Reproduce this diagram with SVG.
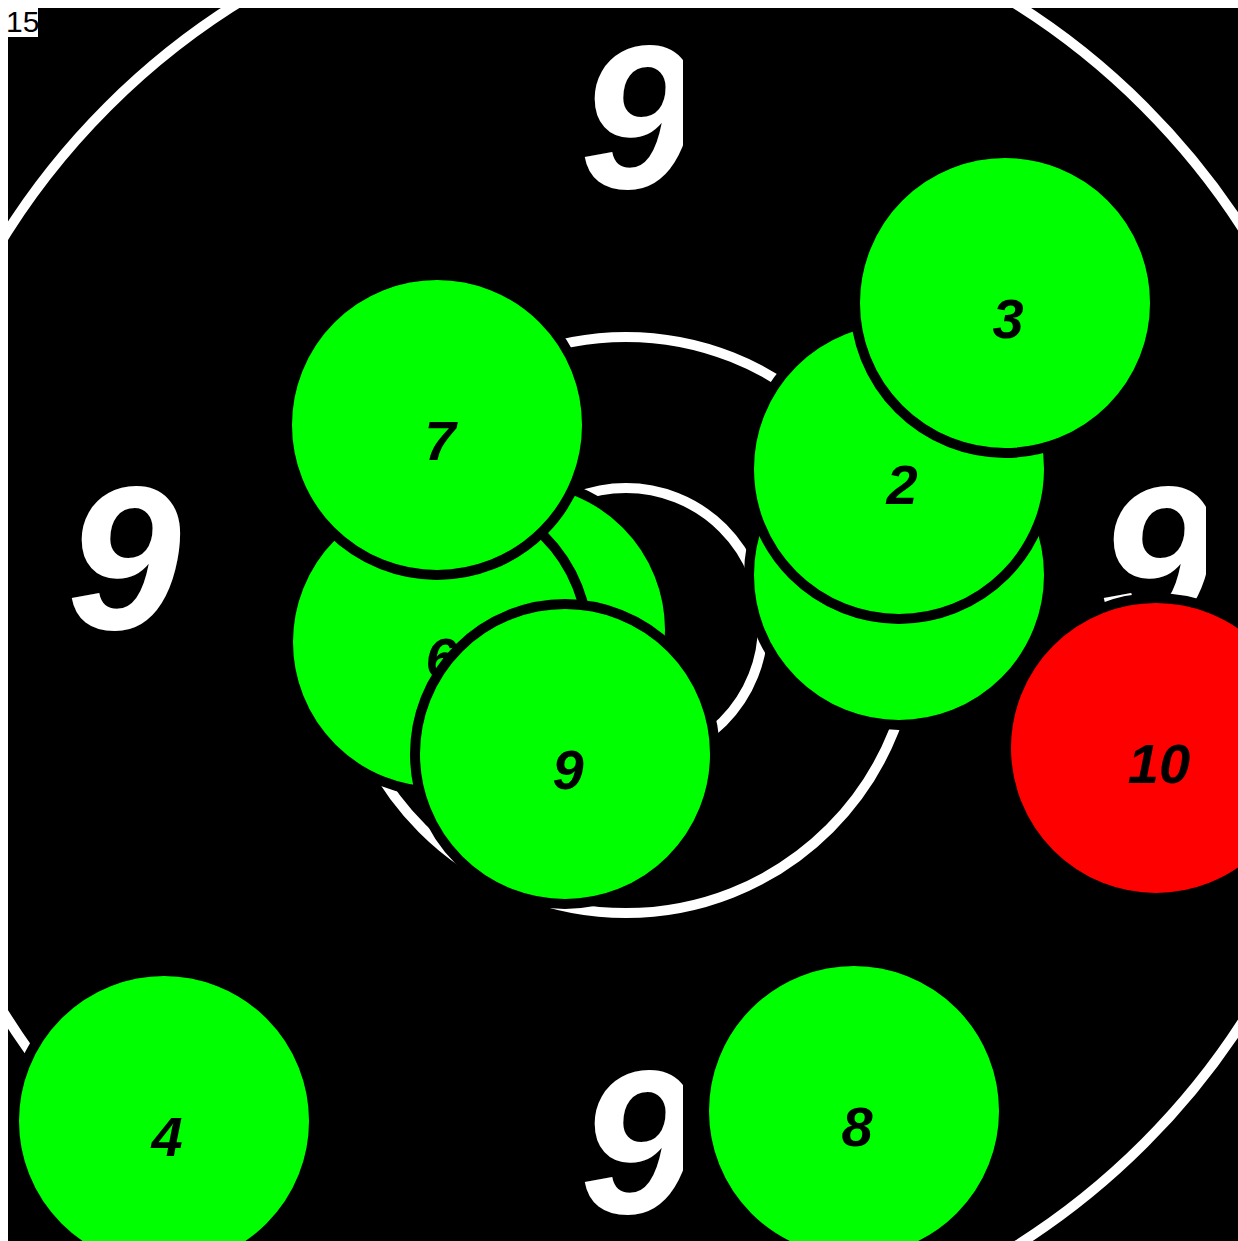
<svg xmlns="http://www.w3.org/2000/svg" width="1238" height="1241" viewBox="0 0 1238 1241">
  <style>
    .ring { fill: none; stroke: #ffffff; stroke-width: 10; }
    .score { fill: #ffffff; font-family: "Liberation Sans", Arial, sans-serif; font-weight: bold; font-style: italic; font-size: 205px; }
    .shot { stroke: #000000; stroke-width: 10; }
    .hit { fill: #00ff00; }
    .miss { fill: #ff0000; }
    .lbl { fill: #000000; font-family: "Liberation Sans", Arial, sans-serif; font-weight: bold; font-style: italic; font-size: 56px; text-anchor: middle; }
    .tag { fill: #000000; font-family: "Liberation Sans", Arial, sans-serif; font-size: 30px; }
  </style>
  <defs>
    <clipPath id="clipTop"><rect x="0" y="0" width="683" height="1241"/></clipPath>
    <clipPath id="clipRight"><rect x="0" y="0" width="1206" height="1241"/></clipPath>
  </defs>
  <rect x="0" y="0" width="1238" height="1241" fill="#ffffff"/>
  <rect x="8" y="8" width="1230" height="1233" fill="#000000"/>
  <g id="rings">
    <circle class="ring" cx="626" cy="625" r="733" stroke-width="9"/>
    <circle class="ring" cx="626" cy="625" r="288"/>
    <circle class="ring" cx="626" cy="625" r="137"/>
  </g>
  <g id="scores">
    <text class="score" x="580" y="188" clip-path="url(#clipTop)">9</text>
    <text class="score" x="67" y="629">9</text>
    <text class="score" x="1099" y="629" clip-path="url(#clipRight)">9</text>
    <text class="score" x="580" y="1213" clip-path="url(#clipTop)">9</text>
  </g>
  <g id="shot1"><circle class="shot hit" cx="899" cy="575" r="150"/></g>
  <g id="shot2"><circle class="shot hit" cx="899" cy="469" r="150"/><text class="lbl" x="902" y="504">2</text></g>
  <g id="shot3"><circle class="shot hit" cx="1005" cy="303" r="150"/><text class="lbl" x="1008" y="338">3</text></g>
  <g id="shot5"><circle class="shot hit" cx="520" cy="630" r="150"/></g>
  <g id="shot6"><circle class="shot hit" cx="438" cy="642" r="150"/><text class="lbl" x="441" y="677">6</text></g>
  <g id="shot7"><circle class="shot hit" cx="437" cy="425" r="150"/><text class="lbl" x="440" y="460">7</text></g>
  <g id="shot9"><circle class="shot hit" cx="565" cy="754" r="150"/><text class="lbl" x="568" y="789">9</text></g>
  <g id="shot10"><circle class="shot miss" cx="1156" cy="748" r="150"/><text class="lbl" x="1159" y="783">10</text></g>
  <g id="shot4"><circle class="shot hit" cx="164" cy="1121" r="150"/><text class="lbl" x="167" y="1156">4</text></g>
  <g id="shot8"><circle class="shot hit" cx="854" cy="1111" r="150"/><text class="lbl" x="857" y="1146">8</text></g>
  <g id="tag">
    <rect x="0" y="0" width="38" height="37" fill="#ffffff"/>
    <text class="tag" x="6" y="32">15</text>
  </g>
</svg>
